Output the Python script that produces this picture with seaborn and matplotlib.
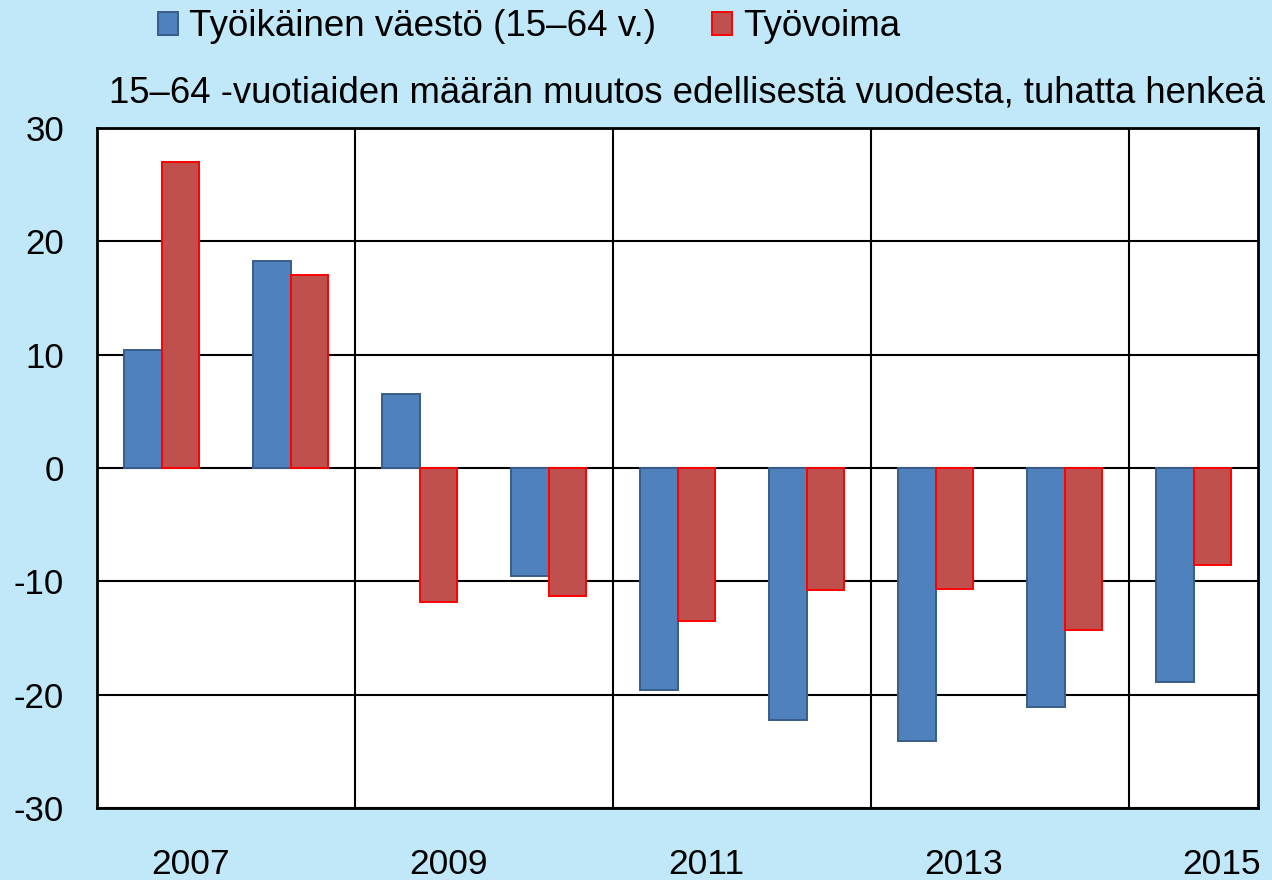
import matplotlib
matplotlib.use("Agg")
import matplotlib.pyplot as plt
import seaborn as sns
import pandas as pd

years = [2007, 2008, 2009, 2010, 2011, 2012, 2013, 2014, 2015]
tyoikainen = [10.4, 18.3, 6.5, -9.5, -19.6, -22.2, -24.1, -21.1, -18.9]
tyovoima = [27.0, 17.0, -11.8, -11.3, -13.5, -10.8, -10.7, -14.3, -8.6]
series_names = ["Työikäinen väestö (15–64 v.)", "Työvoima"]
title_text = "15–64 -vuotiaiden määrän muutos edellisestä vuodesta, tuhatta henkeä"
shown_years = ["2007", "2009", "2011", "2013", "2015"]
y_ticks = [30, 20, 10, 0, -10, -20, -30]

df = pd.DataFrame({
    "year": [str(y) for y in years] * 2,
    "value": tyoikainen + tyovoima,
    "series": [series_names[0]] * len(years) + [series_names[1]] * len(years),
})

sns.set_theme(style="white")
plt.rcParams["font.family"] = ["Liberation Sans", "DejaVu Sans"]
plt.rcParams["text.color"] = "black"
plt.rcParams["xtick.color"] = "black"
plt.rcParams["ytick.color"] = "black"
plt.rcParams["axes.labelcolor"] = "black"

bg = "#c0e8f8"
fig = plt.figure(figsize=(12.72, 8.8), dpi=100, facecolor=bg)
ax = fig.add_axes([97.3 / 1272, 1 - 808 / 880, (1258 - 97.3) / 1272, (808 - 128) / 880])
ax.set_facecolor("white")

face = ["#4F81BD", "#C0504D"]
edge = ["#385D8A", "#FF0000"]
sns.barplot(data=df, x="year", y="value", hue="series", hue_order=series_names,
            palette=face, width=0.58, ax=ax, saturation=1, legend=True)
for cont, ec in zip(ax.containers, edge):
    for p in cont:
        p.set_edgecolor(ec)
        p.set_linewidth(1.4)
        p.set_zorder(3)

ax.set_ylim(-30, 30)
ax.set_xlim(-0.5, len(years) - 0.5)
ax.set_yticks(y_ticks)
ax.set_yticklabels([str(v) for v in y_ticks], fontsize=25, color="black")
ax.set_xlabel("")
ax.set_ylabel("")

# horizontal gridlines
ax.grid(False)
for v in y_ticks:
    ax.axhline(v, color="black", lw=1.5, zorder=1)
# vertical separators every two years
for b in [1.5, 3.5, 5.5, 7.5]:
    ax.axvline(b, color="black", lw=1.5, zorder=1)

# year labels sit slightly right of the category centres, as in the original
label_pos = [years.index(int(y)) + 0.22 for y in shown_years]
ax.set_xticks(label_pos)
ax.set_xticklabels(shown_years, fontsize=25.5, color="black")
ax.tick_params(axis="x", length=0, pad=29)
ax.tick_params(axis="y", length=0, pad=24)

for s in ax.spines.values():
    s.set_color("black")
    s.set_linewidth(2)

handles, labels = ax.get_legend_handles_labels()
ax.get_legend().remove()
leg = fig.legend(handles, labels, loc="center", bbox_to_anchor=(529 / 1272, 1 - 27 / 880),
                 ncol=2, frameon=False, fontsize=26.5, handlelength=0.55, handleheight=0.6,
                 handletextpad=0.3, columnspacing=1.5, labelcolor="black")
for h, ec in zip(leg.legend_handles, edge):
    h.set_edgecolor(ec)
    h.set_linewidth(1.4)

fig.text(1265 / 1272, 1 - 93 / 880, title_text, ha="right", va="center", fontsize=26.3,
         color="black")

fig.savefig("out.png", dpi=100, facecolor=bg)
